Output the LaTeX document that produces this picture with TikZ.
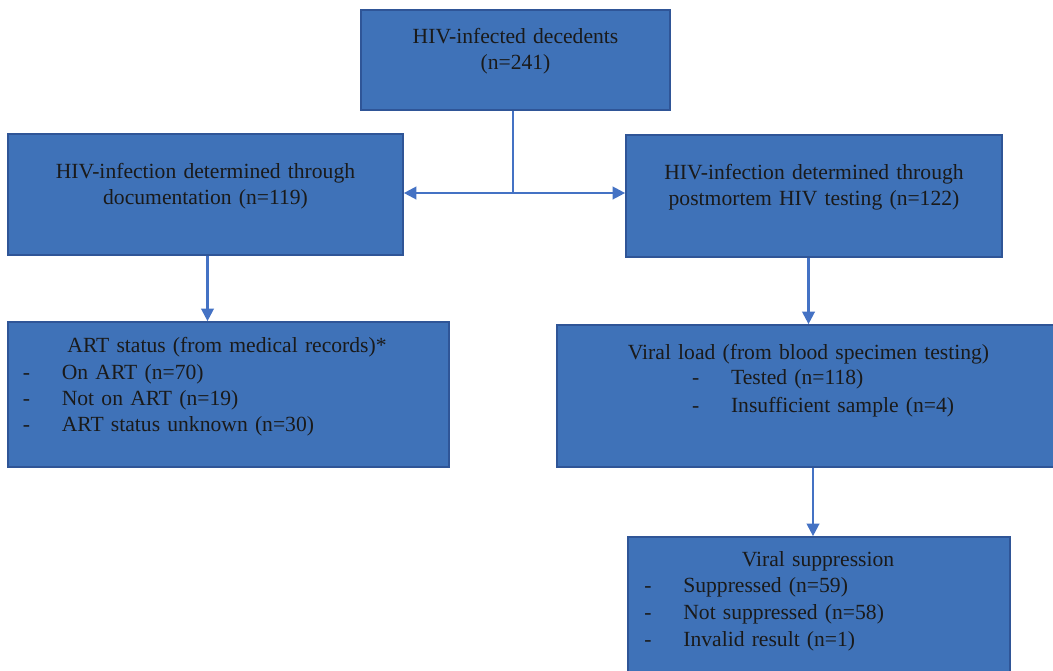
\documentclass[tikz,border=0pt]{standalone}
\usepackage{fontspec}
\setmainfont{Liberation Serif}
\usetikzlibrary{arrows.meta, calc}
\definecolor{hivblue}{RGB}{63,114,184}
\definecolor{hivedge}{RGB}{47,85,151}
\definecolor{hivline}{RGB}{68,114,196}
\definecolor{hivtext}{RGB}{26,26,26}
\newcommand{\dashitem}[1]{\makebox[0.78cm][l]{-}#1}
\tikzset{
  flowbox/.style={
    rectangle, draw=hivedge, line width=1pt, fill=hivblue, inner sep=0pt
  },
  boxtitle/.style={
    inner sep=0pt, text=hivtext, align=center, text width=9cm,
    font=\fontsize{12.3}{14.8}\selectfont
  },
  boxlist/.style={
    inner sep=0pt, text=hivtext, align=left, text width=7cm,
    font=\fontsize{12.3}{14.8}\selectfont
  },
  arrowflow/.style={-{Triangle[length=2.5mm, width=2.5mm]}, line width=1.3pt, draw=hivline}
}

\begin{document}
\begin{tikzpicture}[x=0.02cm, y=-0.02cm]
\clip (0,0) rectangle (1053,670);

% -------- BOXES --------
\node[flowbox, minimum width=6.18cm, minimum height=2.0cm] (total) at (515.5,60) {};
\node[flowbox, minimum width=7.9cm, minimum height=2.42cm] (docbox) at (205.5,194.5) {};
\node[flowbox, minimum width=7.52cm, minimum height=2.44cm] (pmbox) at (814,196) {};
\node[flowbox, minimum width=8.82cm, minimum height=2.9cm] (artbox) at (228.5,394.5) {};
\node[flowbox, minimum width=10.06cm, minimum height=2.84cm] (vlbox) at (808.5,396) {};
\node[flowbox, minimum width=7.64cm, minimum height=3.06cm] (vsbox) at (819,613.5) {};

% -------- TEXTS --------
\node[boxtitle, anchor=base] (total-t) at (515.5,43) {HIV-infected decedents\\(n=241)};
\node[boxtitle, anchor=base] (doc-t) at (205.5,178) {HIV-infection determined through\\documentation (n=119)};
\node[boxtitle, anchor=base] (pm-t) at (814,179) {HIV-infection determined through\\postmortem HIV testing (n=122)};

\node[boxtitle, anchor=base] (art-t) at (227,352) {ART status (from medical records)*};
\node[boxlist, anchor=base west] (art-l) at (22.5,379)
  {\dashitem{On ART (n=70)}\\ \dashitem{Not on ART (n=19)}\\ \dashitem{ART status unknown (n=30)}};

\node[boxtitle, anchor=base] (vl-t) at (808.5,359) {Viral load (from blood specimen testing)};
\node[boxlist, anchor=base west] (vl-l) at (691.7,384)
  {\dashitem{Tested (n=118)}\\[1.5pt] \dashitem{Insufficient sample (n=4)}};

\node[boxtitle, anchor=base] (vs-t) at (818,566) {Viral suppression};
\node[boxlist, anchor=base west] (vs-l) at (644,592)
  {\dashitem{Suppressed (n=59)}\\[0.8pt] \dashitem{Not suppressed (n=58)}\\[0.8pt] \dashitem{Invalid result (n=1)}};

% -------- CONNECTORS --------
\coordinate (split) at (513,193);
\draw[arrowflow, -] (total.south -| split) -- (split);
\draw[arrowflow] (split) -- (split -| docbox.east);
\draw[arrowflow] (split) -- (split -| pmbox.west);
\draw[arrowflow] (docbox.south) ++(2,0) -- ($(docbox.south |- artbox.north)+(2,0)$);
\draw[arrowflow] (vlbox.north |- pmbox.south) -- (vlbox.north);
\draw[arrowflow] ([xshift=-0.12cm]vsbox.north |- vlbox.south) -- ([xshift=-0.12cm]vsbox.north);

\end{tikzpicture}
\end{document}
